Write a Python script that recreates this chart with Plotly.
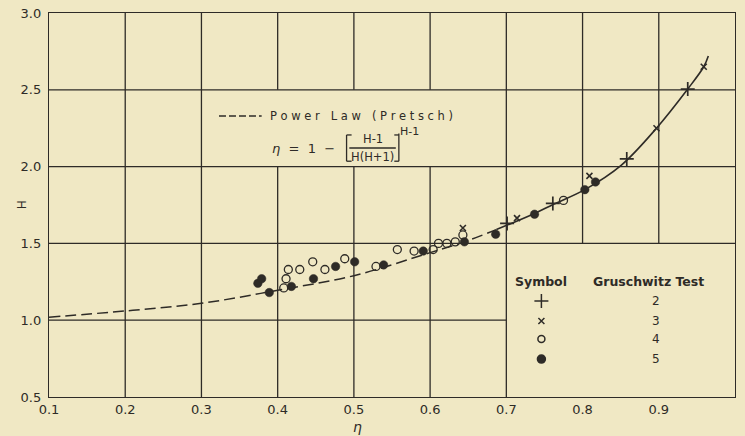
import plotly.graph_objects as go

# Power-law (Pretsch) curve
curve_eta = [0.10, 0.20, 0.30, 0.40, 0.50, 0.60, 0.645, 0.687, 0.737, 0.762, 0.803, 0.851, 0.897, 0.938, 0.959, 0.965]
curve_H = [1.02, 1.06, 1.11, 1.195, 1.29, 1.44, 1.51, 1.59, 1.695, 1.755, 1.85, 2.01, 2.25, 2.505, 2.65, 2.72]
split = 7  # dashed below this index, solid above

# Gruschwitz tests
t2_eta = [0.701, 0.761, 0.858, 0.938]
t2_H = [1.63, 1.76, 2.05, 2.505]

t3_eta = [0.643, 0.714, 0.809, 0.897, 0.959]
t3_H = [1.60, 1.665, 1.94, 2.25, 2.65]

t4_eta = [0.408, 0.411, 0.414, 0.429, 0.446, 0.462, 0.488, 0.529, 0.557, 0.579,
          0.604, 0.611, 0.622, 0.633, 0.643, 0.775]
t4_H = [1.21, 1.27, 1.33, 1.33, 1.38, 1.33, 1.40, 1.35, 1.46, 1.45,
        1.46, 1.50, 1.50, 1.51, 1.555, 1.78]

t5_eta = [0.374, 0.379, 0.389, 0.418, 0.447, 0.476, 0.501, 0.539, 0.591, 0.645,
          0.686, 0.737, 0.803, 0.817]
t5_H = [1.24, 1.27, 1.18, 1.22, 1.27, 1.35, 1.38, 1.36, 1.45, 1.51,
        1.56, 1.69, 1.85, 1.90]

x_ticks = [0.1, 0.2, 0.3, 0.4, 0.5, 0.6, 0.7, 0.8, 0.9, 1.0]
x_tick_text = ["0.1", "0.2", "0.3", "0.4", "0.5", "0.6", "0.7", "0.8", "0.9", "1.0"]
y_ticks = [0.5, 1.0, 1.5, 2.0, 2.5, 3.0]
y_tick_text = ["0.5", "1.0", "1.5", "2.0", "2.5", "3.0"]

legend_symbols = ["cross-thin", "x-thin", "circle-open", "circle"]
legend_tests = ["2", "3", "4", "5"]

BG = "#F0E8C4"
INK = "#2E2B27"
FONT = "DejaVu Sans"

fig = go.Figure()

fig.add_trace(go.Scatter(
    x=curve_eta[:split + 1], y=curve_H[:split + 1], mode="lines",
    line=dict(color=INK, width=1.5, dash="11px,5px", shape="spline"),
    hoverinfo="skip", showlegend=False))
fig.add_trace(go.Scatter(
    x=curve_eta[split:], y=curve_H[split:], mode="lines",
    line=dict(color=INK, width=1.6, shape="spline"),
    hoverinfo="skip", showlegend=False))

fig.add_trace(go.Scatter(x=t2_eta, y=t2_H, mode="markers", name="2",
                         marker=dict(symbol="cross-thin", size=10, color=INK,
                                     line=dict(width=1.7, color=INK)), showlegend=False))
fig.add_trace(go.Scatter(x=t3_eta, y=t3_H, mode="markers", name="3",
                         marker=dict(symbol="x-thin", size=6, color=INK,
                                     line=dict(width=1.6, color=INK)), showlegend=False))
fig.add_trace(go.Scatter(x=t4_eta, y=t4_H, mode="markers", name="4",
                         marker=dict(symbol="circle-open", size=8, color=INK,
                                     line=dict(width=1.3, color=INK)), showlegend=False))
fig.add_trace(go.Scatter(x=t5_eta, y=t5_H, mode="markers", name="5",
                         marker=dict(symbol="circle", size=8.5, color=INK,
                                     line=dict(width=0.5, color=INK)), showlegend=False))

# Key table inside the lower-right box
key_eta = 0.746
num_eta = 0.8966
key_rows = [1.125, 0.995, 0.878, 0.747]
key_sizes = [10, 6, 7, 8]
for sym, sz, hy, lab in zip(legend_symbols, key_sizes, key_rows, legend_tests):
    fig.add_trace(go.Scatter(x=[key_eta], y=[hy], mode="markers",
                             marker=dict(symbol=sym, size=sz, color=INK,
                                         line=dict(width=1.5, color=INK)),
                             hoverinfo="skip", showlegend=False))
    fig.add_annotation(x=num_eta, y=hy, text=lab, showarrow=False,
                       font=dict(family=FONT, size=12, color=INK))
fig.add_annotation(x=key_eta, y=1.255, text="<b>Symbol</b>", showarrow=False,
                   font=dict(family=FONT, size=12.5, color=INK))
fig.add_annotation(x=0.887, y=1.255, text="<b>Gruschwitz Test</b>", showarrow=False,
                   font=dict(family=FONT, size=12.5, color=INK))

# Grid, with breaks around the formula box and the key box
grid = []
for gx in [0.2, 0.3, 0.7]:
    grid.append((gx, gx, 0.5, 3.0))
for gx in [0.4, 0.5, 0.6]:
    grid.append((gx, gx, 0.5, 2.0))
    grid.append((gx, gx, 2.5, 3.0))
for gx in [0.8, 0.9]:
    grid.append((gx, gx, 1.5, 3.0))
grid.append((0.1, 0.7, 1.0, 1.0))
for gy in [1.5, 2.0, 2.5]:
    grid.append((0.1, 1.0, gy, gy))
for x0, x1, y0, y1 in grid:
    fig.add_shape(type="line", x0=x0, x1=x1, y0=y0, y1=y1, xref="x", yref="y",
                  line=dict(color=INK, width=1.3), layer="below")

# Formula legend: dashed sample, caption and the Pretsch relation
fig.add_shape(type="line", x0=0.323, x1=0.379, y0=2.329, y1=2.329, xref="x", yref="y",
              line=dict(color=INK, width=1.6, dash="7px,3px"))
fig.add_annotation(x=0.387, y=2.329, xanchor="left",
                   text="P o w e r   L a w   ( P r e t s c h )", showarrow=False,
                   font=dict(family=FONT, size=11.5, color=INK))
fig.add_annotation(x=0.478, y=2.121, xanchor="right", text="<i>η</i>  =  1  −",
                   showarrow=False, font=dict(family=FONT, size=13, color=INK))
fig.add_annotation(x=0.5245, y=2.178, text="H-1", showarrow=False,
                   font=dict(family=FONT, size=11.5, color=INK))
fig.add_annotation(x=0.5245, y=2.064, text="H(H+1)", showarrow=False,
                   font=dict(family=FONT, size=11.5, color=INK))
fig.add_annotation(x=0.5725, y=2.226, text="H-1", showarrow=False,
                   font=dict(family=FONT, size=11, color=INK))
bracket = [
    (0.4904, 0.4904, 2.035, 2.206),
    (0.4904, 0.4970, 2.206, 2.206),
    (0.4904, 0.4970, 2.035, 2.035),
    (0.5590, 0.5590, 2.035, 2.215),
    (0.5530, 0.5590, 2.206, 2.206),
    (0.5530, 0.5590, 2.035, 2.035),
    (0.4940, 0.5550, 2.121, 2.121),
]
for x0, x1, y0, y1 in bracket:
    fig.add_shape(type="line", x0=x0, x1=x1, y0=y0, y1=y1, xref="x", yref="y",
                  line=dict(color=INK, width=1.3))

# Axis titles
fig.add_annotation(x=0.505, xref="x", y=-0.077, yref="paper", yanchor="middle",
                   text="<i>η</i>", showarrow=False,
                   font=dict(family=FONT, size=14, color=INK))
fig.add_annotation(x=-0.052, xref="paper", y=1.75, yref="y", textangle=-90,
                   text="H", showarrow=False,
                   font=dict(family=FONT, size=12, color=INK))

fig.update_layout(
    width=745, height=436,
    margin=dict(l=49, r=10, t=13, b=39),
    paper_bgcolor=BG, plot_bgcolor=BG,
    font=dict(family=FONT, color=INK, size=13),
    showlegend=False,
)
fig.update_xaxes(range=[0.1, 1.0], tickvals=x_ticks, ticktext=x_tick_text,
                 showgrid=False, zeroline=False, showline=True, mirror=True,
                 automargin=False,
                 linecolor=INK, linewidth=1.4, ticks="", ticklabelstandoff=0,
                 tickfont=dict(family=FONT, size=13, color=INK))
fig.update_yaxes(range=[0.5, 3.0], tickvals=y_ticks, ticktext=y_tick_text,
                 showgrid=False, zeroline=False, showline=True, mirror=True,
                 automargin=False,
                 linecolor=INK, linewidth=1.4, ticks="", ticklabelstandoff=4,
                 tickfont=dict(family=FONT, size=13, color=INK))

fig.write_html("out.html")
